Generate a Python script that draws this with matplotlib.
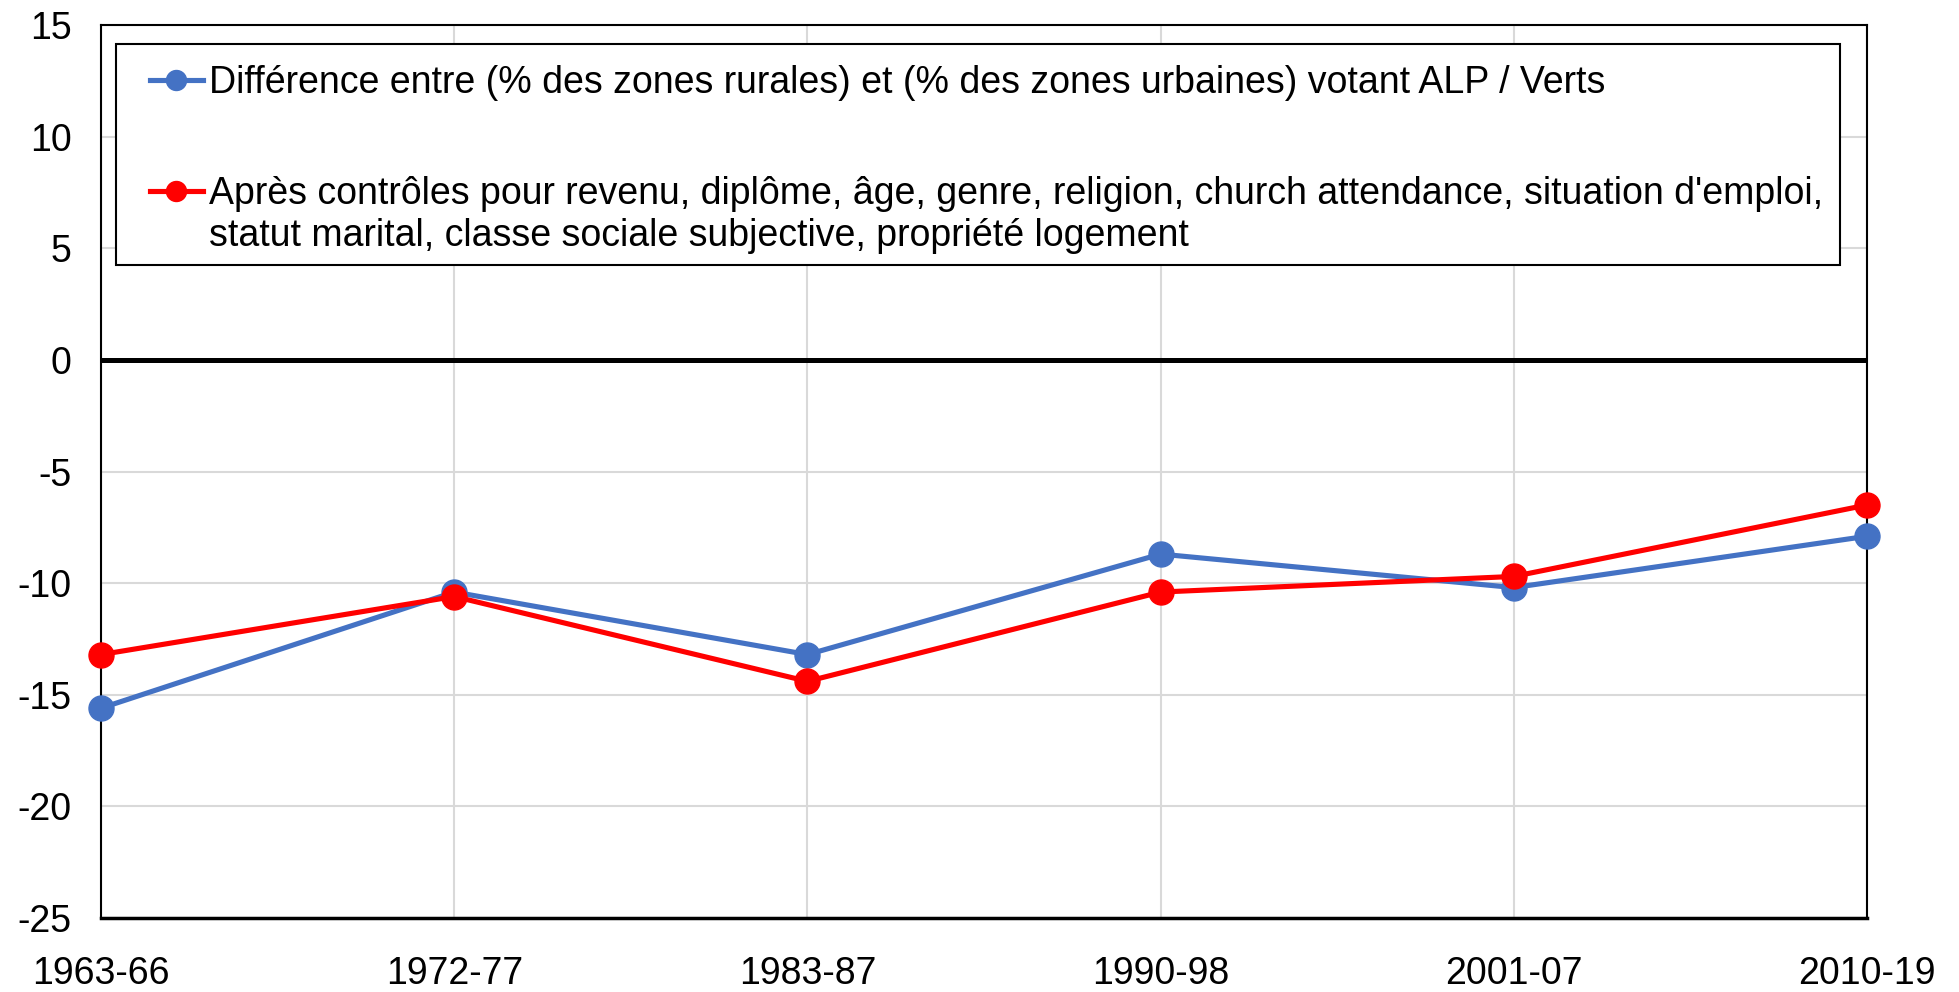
import matplotlib.pyplot as plt
from matplotlib.patches import Rectangle

periods = ['1963-66', '1972-77', '1983-87', '1990-98', '2001-07', '2010-19']
raw_gap = [-15.6, -10.4, -13.2, -8.7, -10.2, -7.9]
controlled_gap = [-13.2, -10.6, -14.4, -10.4, -9.7, -6.5]

label_raw = 'Différence entre (% des zones rurales) et (% des zones urbaines) votant ALP / Verts'
label_ctrl = ("Après contrôles pour revenu, diplôme, âge, genre, religion, church attendance, situation d'emploi,\n"
              "statut marital, classe sociale subjective, propriété logement")

plt.rcParams['font.family'] = ['Liberation Sans', 'DejaVu Sans']
plt.rcParams['axes.unicode_minus'] = False

W, H = 1959, 992
fig = plt.figure(figsize=(W / 100, H / 100), dpi=100)
# axes box in pixels: left 101, right 1867, top 25, bottom 918
ax = fig.add_axes([101 / W, 1 - 918 / H, 1766 / W, 893 / H])

x = list(range(len(periods)))
ax.plot(x, raw_gap, color='#4472C4', lw=3.7, marker='o', ms=18, label=label_raw,
        zorder=3, clip_on=False)
ax.plot(x, controlled_gap, color='#FF0000', lw=3.7, marker='o', ms=18, label=label_ctrl,
        zorder=4, clip_on=False)
ax.axhline(0, color='black', lw=3.6, zorder=2)

ax.set_xlim(0, len(periods) - 1)
ax.set_ylim(-25, 15)
ax.set_yticks(range(-25, 16, 5))
ax.set_xticks(x)
ax.set_xticklabels(periods)
ax.tick_params(axis='both', length=0, labelsize=27)
ax.tick_params(axis='x', pad=27)
ax.tick_params(axis='y', pad=21)
ax.grid(True, color='#D9D9D9', lw=1.5, zorder=0)
for s in ax.spines.values():
    s.set_color('black')
    s.set_linewidth(1.5)
ax.spines['bottom'].set_linewidth(2.5)

# legend frame drawn separately so the inner padding can be set freely
ax.add_patch(Rectangle((15 / 1766, 1 - 240 / 893), 1724 / 1766, 221 / 893,
                       transform=ax.transAxes, fill=True, facecolor='white',
                       edgecolor='black', lw=1.5, zorder=5))
leg = ax.legend(loc='upper left', bbox_to_anchor=(49 / 1766, 1 - 40 / 893),
                fontsize=27, frameon=False, borderaxespad=0, borderpad=0,
                handlelength=1.4, handleheight=1.1, handletextpad=0.17,
                labelspacing=2.0, markerscale=0.8)
leg.set_zorder(6)
# put each handle next to the first line of its label
for col in leg._legend_handle_box.get_children():
    for item in col.get_children():
        item.align = 'top'

fig.savefig('out.png', dpi=100)
